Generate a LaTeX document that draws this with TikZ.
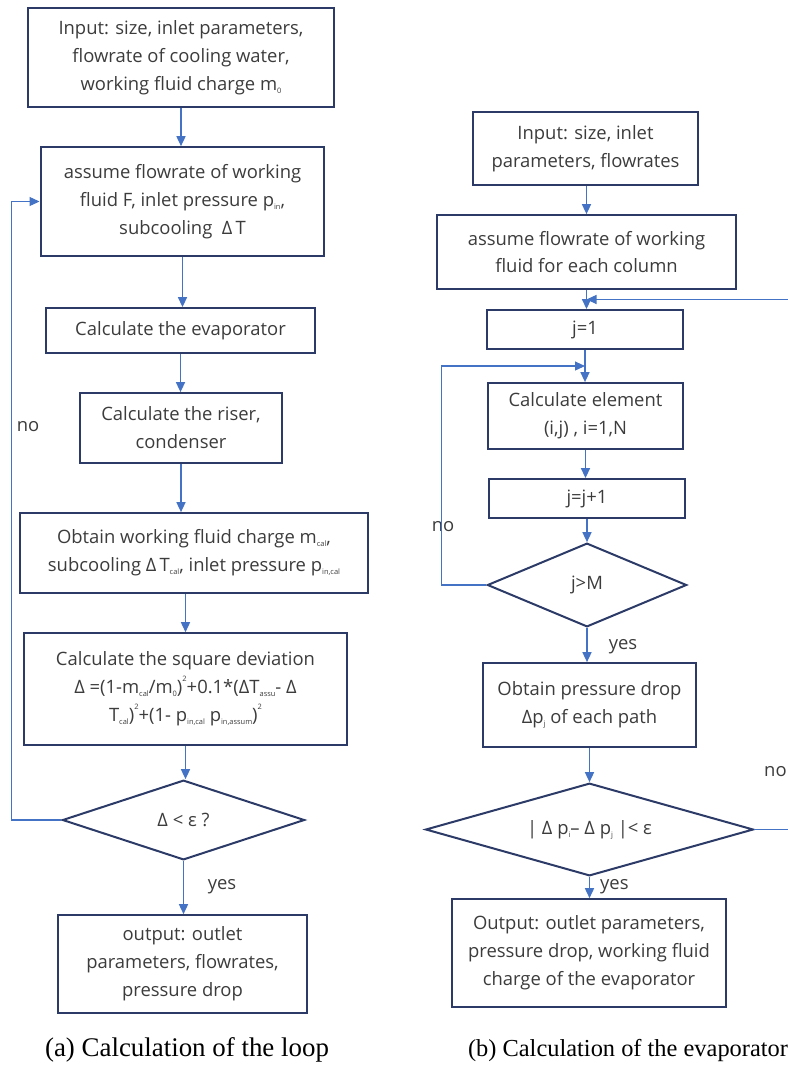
\documentclass[tikz,border=0pt]{standalone}
\usepackage{fontspec}
\setmainfont{Open Sans}
\newfontfamily\capfont{Liberation Serif}
\usetikzlibrary{positioning,shapes.geometric,arrows.meta}
\definecolor{boxline}{HTML}{2B3A67}
\definecolor{arrowblue}{HTML}{4472C4}
\definecolor{txtgray}{HTML}{3C3C3C}
\newcommand{\lo}[1]{\raisebox{-0.3ex}{\fontsize{7.5}{7.5}\selectfont #1}}
\newcommand{\hi}[1]{\raisebox{1.2ex}{\fontsize{7.5}{7.5}\selectfont #1}}

\begin{document}
\begin{tikzpicture}[x=1bp, y=1bp,
	proc/.style={rectangle, draw=boxline, line width=2bp, text=txtgray,
		align=center, inner sep=0pt, font=\fontsize{18.5}{28}\selectfont},
	cond/.style={diamond, shape aspect=3, draw=boxline, line width=2bp, text=txtgray,
		align=center, inner sep=0pt, font=\fontsize{18.5}{28}\selectfont},
	flow/.style={draw=arrowblue, line width=1.5bp,
		-{Triangle[length=10bp,width=9bp]}},
	back/.style={flow, line width=1.1bp},
	lab/.style={text=txtgray, inner sep=0pt, font=\fontsize{18.5}{20}\selectfont},
	capt/.style={inner sep=0pt, font=\capfont\fontsize{27}{30}\selectfont}
	]
	\useasboundingbox (0,0) rectangle (788,-1065);
	\clip (0,0) rectangle (788,-1065);
	% (a) loop
	\node (inA) [proc, minimum width=308, minimum height=99] at (181,-57.5)
		{Input: size, inlet parameters,\\flowrate of cooling water,\\working fluid charge m\lo{0}};
	\node (asmA) [proc, minimum width=285, minimum height=109] at (182.5,-201.5)
		{assume flowrate of working\\fluid F, inlet pressure p\lo{in},\\subcooling \ Δ\,T};
	\node (evap) [proc, minimum width=271, minimum height=45] at (180.5,-330.5)
		{Calculate the evaporator};
	\node (riser) [proc, minimum width=202, minimum height=70] at (181,-428)
		{Calculate the riser,\\condenser};
	\node (obtA) [proc, minimum width=350, minimum height=80] at (194,-553)
		{Obtain working fluid charge m\lo{cal},\\subcooling Δ\,T\lo{cal}, inlet pressure p\lo{in,cal}};
	\node (sqdev) [proc, minimum width=325, minimum height=112] at (185.5,-689)
		{Calculate the square deviation\\Δ\ =(1-m\lo{cal}/m\lo{0})\hi{2}+0.1*(ΔT\lo{assu}- Δ\\T\lo{cal})\hi{2}+(1- p\lo{in,cal} p\lo{in,assum})\hi{2}};
	\node (chkA) [cond, minimum width=243, minimum height=80] at (183.5,-820)
		{Δ\ < ε ?};
	\node (outA) [proc, minimum width=249, minimum height=98] at (182.5,-964)
		{output: outlet\\parameters, flowrates,\\pressure drop};
	\node (noA) [lab] at (28,-427) {no};
	\node (yesA) [lab] at (222,-887) {yes};
	\node (captA) [capt] at (187,-1050) {(a) Calculation of the loop};

	\draw[flow] (inA.south) -- (inA.south |- asmA.north);
	\draw[flow] (asmA.south) -- (asmA.south |- evap.north);
	\draw[flow] (evap.south) -- (evap.south |- riser.north);
	\draw[flow] (riser.south) -- (riser.south |- obtA.north);
	\draw[flow] (obtA.south -| sqdev.north) -- (sqdev.north);
	\draw[flow] (sqdev.south) -- (sqdev.south |- chkA.north);
	\draw[flow] (chkA.south) -- (chkA.south |- outA.north);
	\draw[back] (chkA.west) -- ++(-50,0) |- (asmA.west);

	% (b) evaporator
	\node (inB) [proc, minimum width=225, minimum height=73] at (585.5,-148.5)
		{Input: size, inlet\\parameters, flowrates};
	\node (asmB) [proc, minimum width=301, minimum height=74] at (586.5,-252)
		{assume flowrate of working\\fluid for each column};
	\node (jone) [proc, minimum width=196, minimum height=39] at (585,-329.5)
		{j=1};
	\node (elem) [proc, minimum width=195, minimum height=66] at (585.5,-416)
		{Calculate element\\(i,j) , i=1,N};
	\node (jinc) [proc, minimum width=196, minimum height=39] at (587,-498.5)
		{j=j+1};
	\node (chkM) [cond, minimum width=200, minimum height=84] at (587,-585)
		{j>M};
	\node (dpj) [proc, minimum width=213, minimum height=84] at (589.5,-705)
		{Obtain pressure drop\\Δp\lo{j} of each path};
	\node (chkP) [cond, minimum width=329, minimum height=93] at (589.5,-829.5)
		{| Δ\ p\lo{i}– Δ\ p\lo{j} |< ε};
	\node (outB) [proc, minimum width=276, minimum height=108] at (589,-953)
		{Output: outlet parameters,\\pressure drop, working fluid\\charge of the evaporator};
	\node (noB) [lab] at (443,-527) {no};
	\node (yesB) [lab] at (623,-647) {yes};
	\node (noC) [lab, anchor=west] at (764,-772) {no};
	\node (yesC) [lab, anchor=west] at (600,-887) {yes};
	\node (captB) [capt, font=\capfont\fontsize{24.5}{30}\selectfont] at (628,-1050)
		{(b) Calculation of the evaporator};

	\draw[flow] (inB.south -| asmB.north) -- (asmB.north);
	\draw[flow] (asmB.south) -- coordinate (jtop) (asmB.south |- jone.north);
	\draw[flow] (jone.south) -- coordinate (jmid) (jone.south |- elem.north);
	\draw[flow] (elem.south) -- (elem.south |- jinc.north);
	\draw[flow] (jinc.south) -- (chkM.north);
	\draw[flow] (chkM.south) -- (chkM.south |- dpj.north);
	\draw[flow] (dpj.south) -- (dpj.south |- chkP.north);
	\draw[flow] (chkP.south) -- (chkP.south |- outB.north);
	\draw[back] (chkM.west) -- ++(-45,0) |- (jmid);
	\draw[back] (chkP.east) -- ++(60,0) |- (jtop);
\end{tikzpicture}
\end{document}
